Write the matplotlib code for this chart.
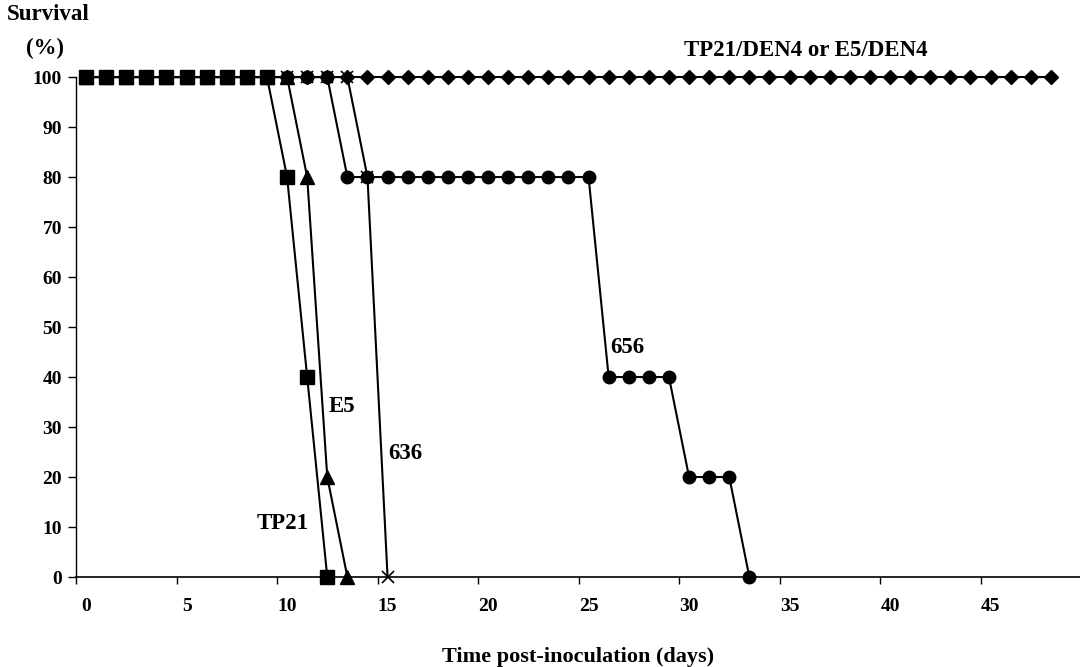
import numpy as np
import matplotlib
matplotlib.use("Agg")
import matplotlib.pyplot as plt

# survival (%) per day post-inoculation
days_tp21 = list(range(0, 13))
surv_tp21 = [100] * 10 + [80, 40, 0]

days_e5 = list(range(0, 14))
surv_e5 = [100] * 11 + [80, 20, 0]

days_636 = list(range(0, 16))
surv_636 = [100] * 14 + [80, 0]

days_656 = list(range(0, 34))
surv_656 = [100] * 13 + [80] * 13 + [40] * 4 + [20] * 3 + [0]

days_chim = list(range(0, 49))
surv_chim = [100] * 49

x_labels = [0, 5, 10, 15, 20, 25, 30, 35, 40, 45]
y_ticks = [0, 10, 20, 30, 40, 50, 60, 70, 80, 90, 100]

plt.rcParams['font.family'] = ['Liberation Serif', 'DejaVu Serif']
plt.rcParams['font.weight'] = 'bold'

fig = plt.figure(figsize=(10.8, 6.67), dpi=100)
ax = fig.add_axes([0.0704, 0.1349, 0.9296, 0.7496])

style = dict(color='black', linewidth=1.5, clip_on=False)
ax.plot(days_chim, surv_chim, marker='D', markersize=7, zorder=3, **style)
ax.plot(days_656, surv_656, marker='o', markersize=9, zorder=4, **style)
ax.plot(days_636, surv_636, marker='x', markersize=9, markeredgewidth=1.2, zorder=5, **style)
ax.plot(days_e5, surv_e5, marker='^', markersize=9.5, zorder=6, **style)
ax.plot(days_tp21, surv_tp21, marker='s', markersize=9.5, zorder=7, **style)

ax.set_xlim(-0.5, 49.45)
ax.set_ylim(0, 100)

# category-style axis: tick marks at boundaries, labels at centres
ax.set_xticks([v - 0.5 for v in x_labels])
ax.set_xticklabels([])
ax.set_xticks(x_labels, minor=True)
ax.set_xticklabels([str(v) for v in x_labels], minor=True, fontsize=14, fontweight='bold')
ax.tick_params(axis='x', which='major', direction='out', length=5, width=1)
ax.tick_params(axis='x', which='minor', length=0, pad=15)

ax.set_yticks(y_ticks)
ax.set_yticklabels([str(v) for v in y_ticks], fontsize=14, fontweight='bold')
ax.tick_params(axis='y', direction='out', length=6, width=1, pad=4)

for side in ['top', 'right']:
    ax.spines[side].set_visible(False)
ax.spines['left'].set_linewidth(1.0)
ax.spines['bottom'].set_linewidth(1.2)

ax.set_xlabel('Time post-inoculation (days)', fontsize=16, fontweight='bold', labelpad=23)

fig.text(0.006, 0.970, 'Survival', fontsize=16.5, fontweight='bold', ha='left', va='baseline')
fig.text(0.024, 0.919, '(%)', fontsize=16.5, fontweight='bold', ha='left', va='baseline')

ax.text(41.85, 104.2, 'TP21/DEN4 or E5/DEN4', fontsize=16.5, fontweight='bold', ha='right', va='baseline')
ax.text(26.95, 46, '656', fontsize=16.5, fontweight='bold', ha='center', va='center')
ax.text(12.74, 34.2, 'E5', fontsize=16.5, fontweight='bold', ha='center', va='center')
ax.text(15.9, 24.8, '636', fontsize=16.5, fontweight='bold', ha='center', va='center')
ax.text(9.8, 10.8, 'TP21', fontsize=16.5, fontweight='bold', ha='center', va='center')

fig.savefig('out.png', dpi=100)
